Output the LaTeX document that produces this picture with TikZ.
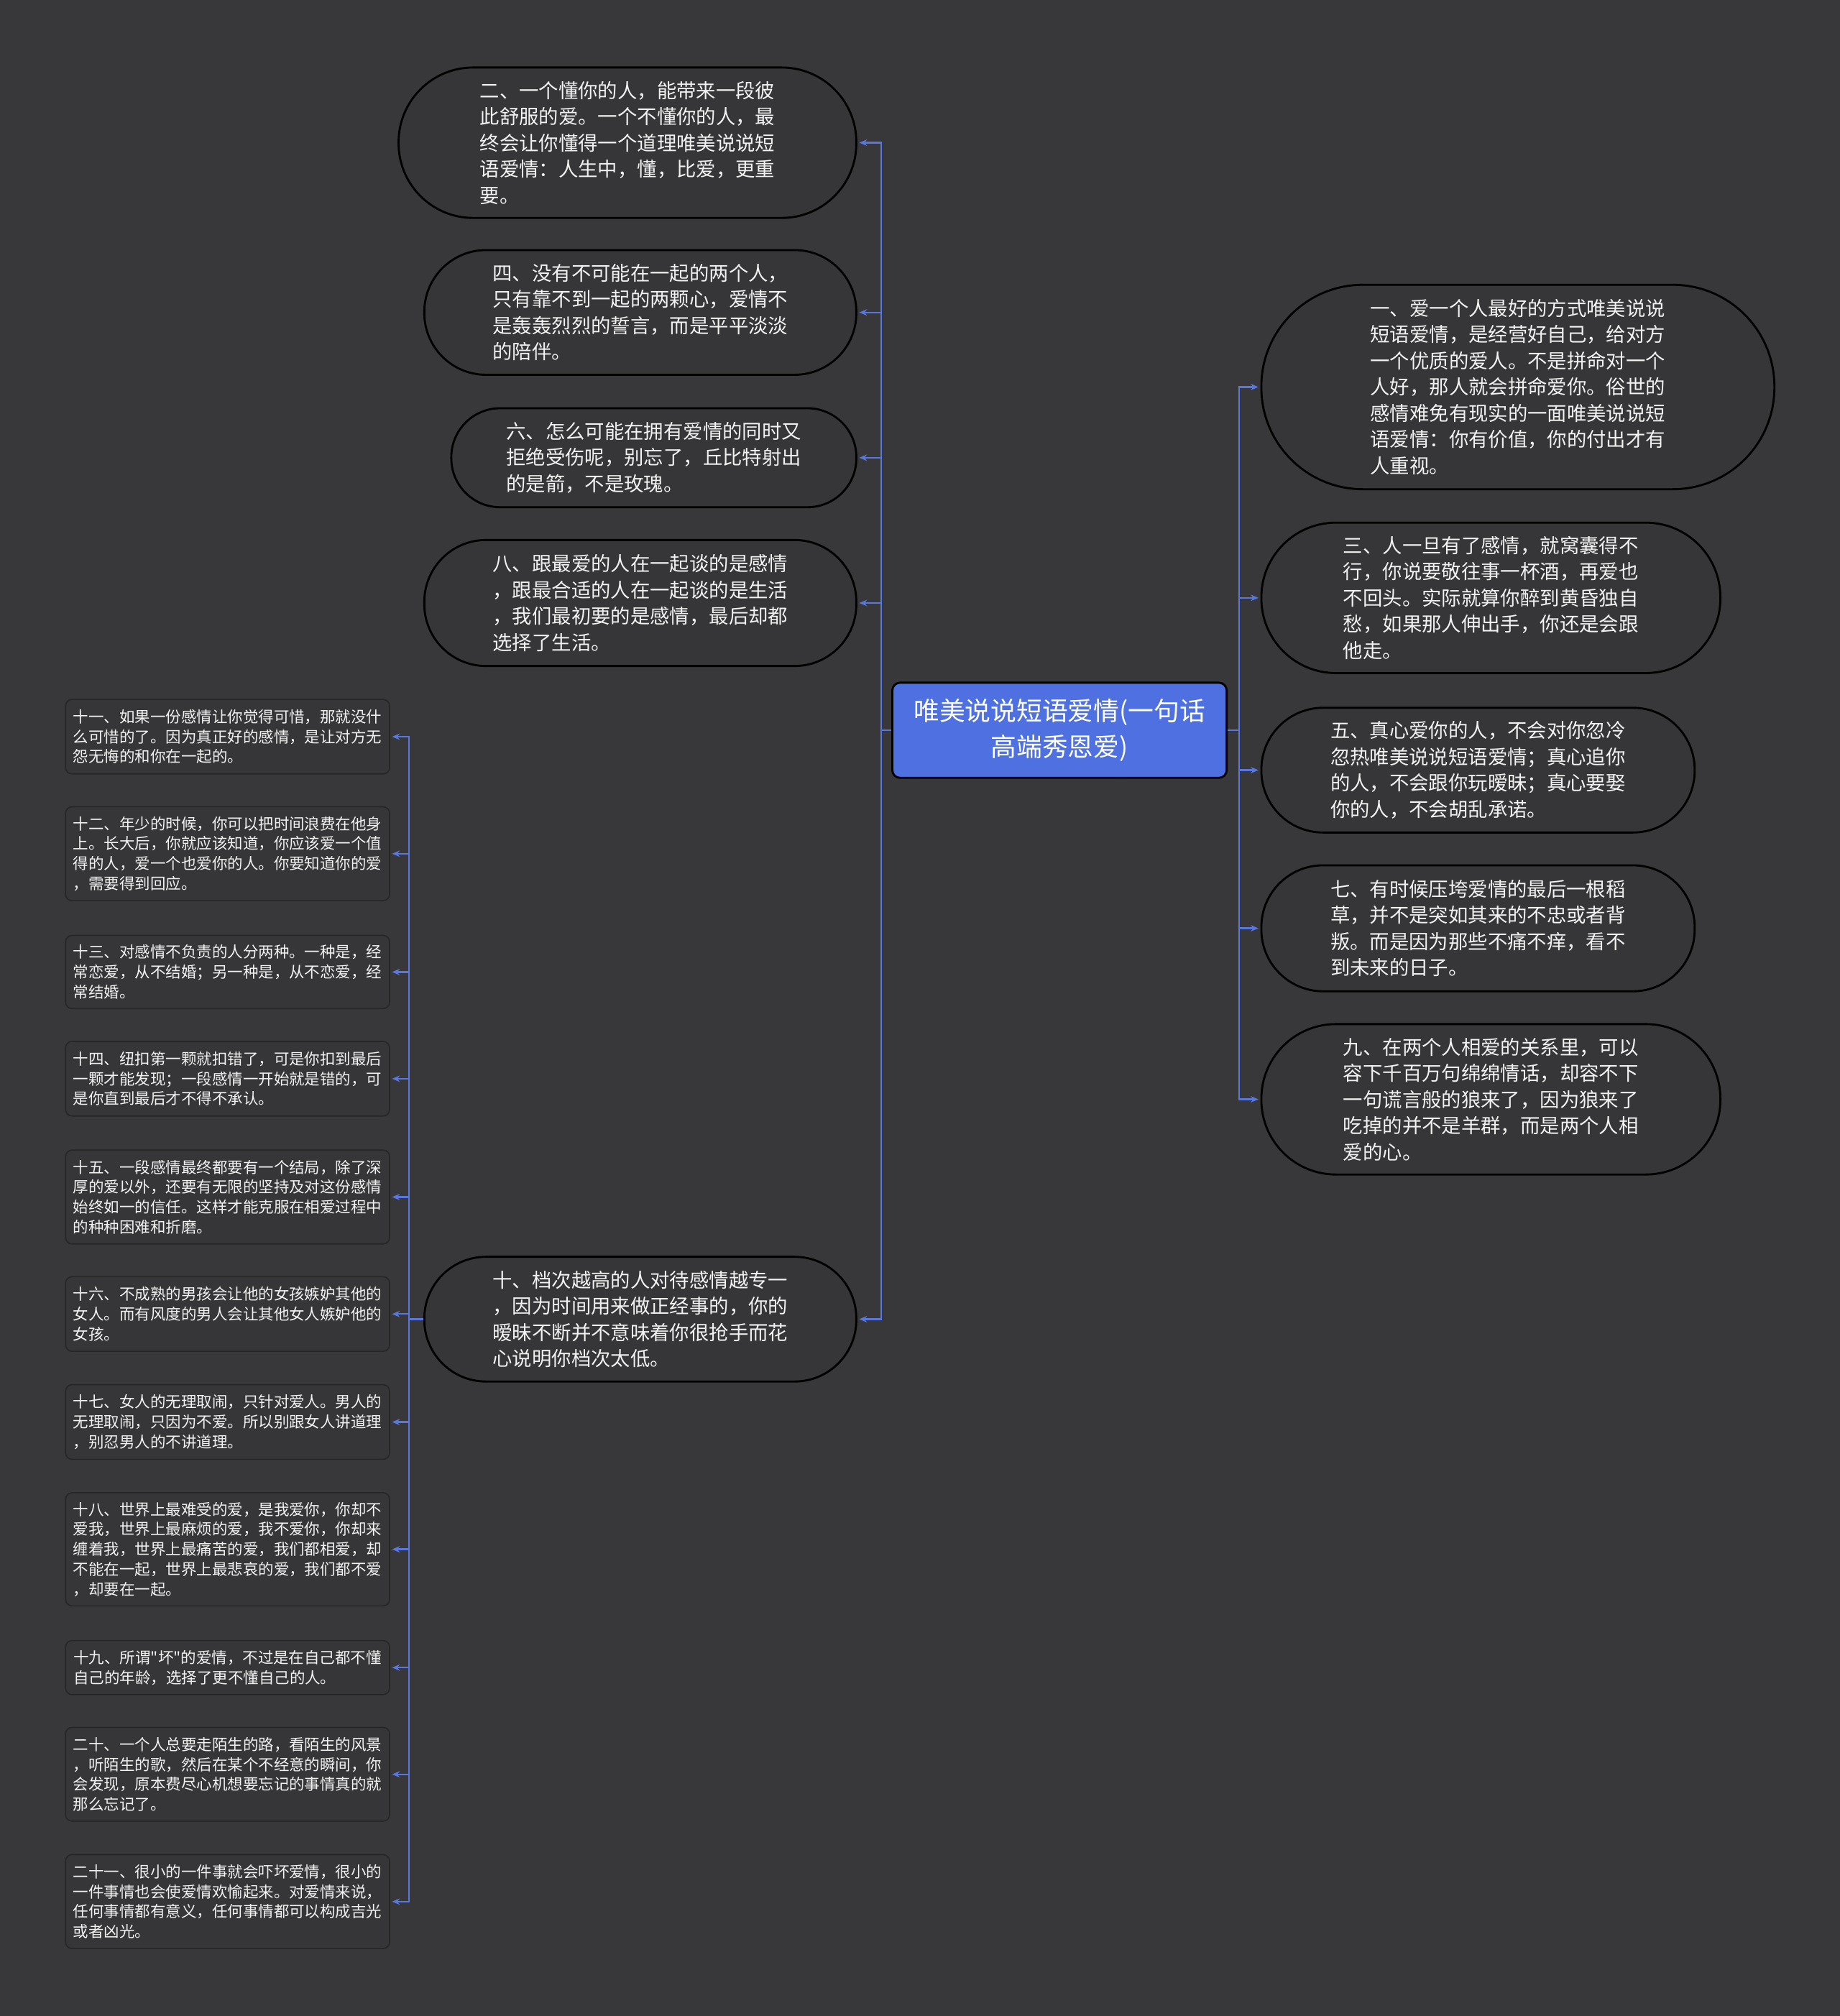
\documentclass[tikz,border=0pt]{standalone}
\usepackage{fontspec}
\setmainfont{Noto Sans CJK SC}[Ligatures=TeXOff]
\usetikzlibrary{arrows.meta}

\definecolor{bgcol}{HTML}{38373A}
\definecolor{boxcol}{HTML}{363538}
\definecolor{linkcol}{HTML}{5878E0}
\definecolor{rootcol}{HTML}{4E70E0}

\begin{document}
\begin{tikzpicture}[>={Stealth[length=6pt,width=5pt]}, x=1pt, y=-1pt,
  bigbox/.style={draw=black, line width=1.6pt, fill=boxcol, text=white!95!black, align=left, inner sep=0pt, font=\fontsize{15.3pt}{20.4pt}\selectfont},
  smallbox/.style={draw=black!85, line width=0.9pt, fill=boxcol, text=white!95!black, align=left, inner sep=0pt, rounded corners=5pt, minimum width=252pt, font=\fontsize{12pt}{15.5pt}\selectfont},
  link/.style={draw=linkcol, line width=1.3pt, ->, shorten >=1.5pt}]
\fill[bgcol] (0,0) rectangle (1431,1568);
\useasboundingbox (0,0) rectangle (1431,1568);

\node[fill=rootcol, draw=black, line width=1.6pt, rounded corners=6pt, minimum width=260pt, minimum height=74pt, text=white, align=center, font=\fontsize{20pt}{28pt}\selectfont] (root) at (824,568) {唯美说说短语爱情(一句话\\高端秀恩爱)};

% left branch
\node[bigbox, minimum width=356pt, minimum height=117pt, rounded corners=58pt] (n2) at (488,111) {二、一个懂你的人，能带来一段彼\\此舒服的爱。一个不懂你的人，最\\终会让你懂得一个道理唯美说说短\\语爱情：人生中，懂，比爱，更重\\要。};
\node[bigbox, minimum width=336pt, minimum height=97pt, rounded corners=48pt] (n4) at (498,243) {四、没有不可能在一起的两个人，\\只有靠不到一起的两颗心，爱情不\\是轰轰烈烈的誓言，而是平平淡淡\\的陪伴。};
\node[bigbox, minimum width=315pt, minimum height=77pt, rounded corners=38pt] (n6) at (508.5,356) {六、怎么可能在拥有爱情的同时又\\拒绝受伤呢，别忘了，丘比特射出\\的是箭，不是玫瑰。};
\node[bigbox, minimum width=336pt, minimum height=98pt, rounded corners=48pt] (n8) at (498,469) {八、跟最爱的人在一起谈的是感情\\，跟最合适的人在一起谈的是生活\\，我们最初要的是感情，最后却都\\选择了生活。};
\node[bigbox, minimum width=336pt, minimum height=97pt, rounded corners=48pt] (n10) at (498,1026) {十、档次越高的人对待感情越专一\\，因为时间用来做正经事的，你的\\暧昧不断并不意味着你很抢手而花\\心说明你档次太低。};

% right branch
\node[bigbox, minimum width=399pt, minimum height=159pt, rounded corners=79pt] (n1) at (1180.5,301) {一、爱一个人最好的方式唯美说说\\短语爱情，是经营好自己，给对方\\一个优质的爱人。不是拼命对一个\\人好，那人就会拼命爱你。俗世的\\感情难免有现实的一面唯美说说短\\语爱情：你有价值，你的付出才有\\人重视。};
\node[bigbox, minimum width=357pt, minimum height=117pt, rounded corners=58pt] (n3) at (1159.5,465) {三、人一旦有了感情，就窝囊得不\\行，你说要敬往事一杯酒，再爱也\\不回头。实际就算你醉到黄昏独自\\愁，如果那人伸出手，你还是会跟\\他走。};
\node[bigbox, minimum width=337pt, minimum height=97pt, rounded corners=48pt] (n5) at (1149.5,599) {五、真心爱你的人，不会对你忽冷\\忽热唯美说说短语爱情；真心追你\\的人，不会跟你玩暧昧；真心要娶\\你的人，不会胡乱承诺。};
\node[bigbox, minimum width=337pt, minimum height=98pt, rounded corners=48pt] (n7) at (1149.5,722) {七、有时候压垮爱情的最后一根稻\\草，并不是突如其来的不忠或者背\\叛。而是因为那些不痛不痒，看不\\到未来的日子。};
\node[bigbox, minimum width=357pt, minimum height=117pt, rounded corners=58pt] (n9) at (1159.5,855) {九、在两个人相爱的关系里，可以\\容下千百万句绵绵情话，却容不下\\一句谎言般的狼来了，因为狼来了\\吃掉的并不是羊群，而是两个人相\\爱的心。};

% small boxes under n10
\node[smallbox, minimum height=58pt] (n11) at (177,573) {十一、如果一份感情让你觉得可惜，那就没什\\么可惜的了。因为真正好的感情，是让对方无\\怨无悔的和你在一起的。};
\node[smallbox, minimum height=73pt] (n12) at (177,664) {十二、年少的时候，你可以把时间浪费在他身\\上。长大后，你就应该知道，你应该爱一个值\\得的人，爱一个也爱你的人。你要知道你的爱\\，需要得到回应。};
\node[smallbox, minimum height=57pt] (n13) at (177,756) {十三、对感情不负责的人分两种。一种是，经\\常恋爱，从不结婚；另一种是，从不恋爱，经\\常结婚。};
\node[smallbox, minimum height=58pt] (n14) at (177,839) {十四、纽扣第一颗就扣错了，可是你扣到最后\\一颗才能发现；一段感情一开始就是错的，可\\是你直到最后才不得不承认。};
\node[smallbox, minimum height=73pt] (n15) at (177,931) {十五、一段感情最终都要有一个结局，除了深\\厚的爱以外，还要有无限的坚持及对这份感情\\始终如一的信任。这样才能克服在相爱过程中\\的种种困难和折磨。};
\node[smallbox, minimum height=58pt] (n16) at (177,1022) {十六、不成熟的男孩会让他的女孩嫉妒其他的\\女人。而有风度的男人会让其他女人嫉妒他的\\女孩。};
\node[smallbox, minimum height=58pt] (n17) at (177,1106) {十七、女人的无理取闹，只针对爱人。男人的\\无理取闹，只因为不爱。所以别跟女人讲道理\\，别忍男人的不讲道理。};
\node[smallbox, minimum height=88pt] (n18) at (177,1205) {十八、世界上最难受的爱，是我爱你，你却不\\爱我，世界上最麻烦的爱，我不爱你，你却来\\缠着我，世界上最痛苦的爱，我们都相爱，却\\不能在一起，世界上最悲哀的爱，我们都不爱\\，却要在一起。};
\node[smallbox, minimum height=42pt] (n19) at (177,1297) {十九、所谓"坏"的爱情，不过是在自己都不懂\\自己的年龄，选择了更不懂自己的人。};
\node[smallbox, minimum height=73pt] (n20) at (177,1380) {二十、一个人总要走陌生的路，看陌生的风景\\，听陌生的歌，然后在某个不经意的瞬间，你\\会发现，原本费尽心机想要忘记的事情真的就\\那么忘记了。};
\node[smallbox, minimum height=73pt] (n21) at (177,1479) {二十一、很小的一件事就会吓坏爱情，很小的\\一件事情也会使爱情欢愉起来。对爱情来说，\\任何事情都有意义，任何事情都可以构成吉光\\或者凶光。};

% links
\foreach \n in {n2,n4,n6,n8,n10}
  \draw[link] (root.west) -- ++(-8,0) |- (\n.east);
\foreach \n in {n1,n3,n5,n7,n9}
  \draw[link] (root.east) -- ++(9,0) |- (\n.west);
\foreach \n in {n11,n12,n13,n14,n15,n16,n17,n18,n19,n20,n21}
  \draw[link] (n10.west) -- ++(-11,0) |- (\n.east);
\end{tikzpicture}
\end{document}
